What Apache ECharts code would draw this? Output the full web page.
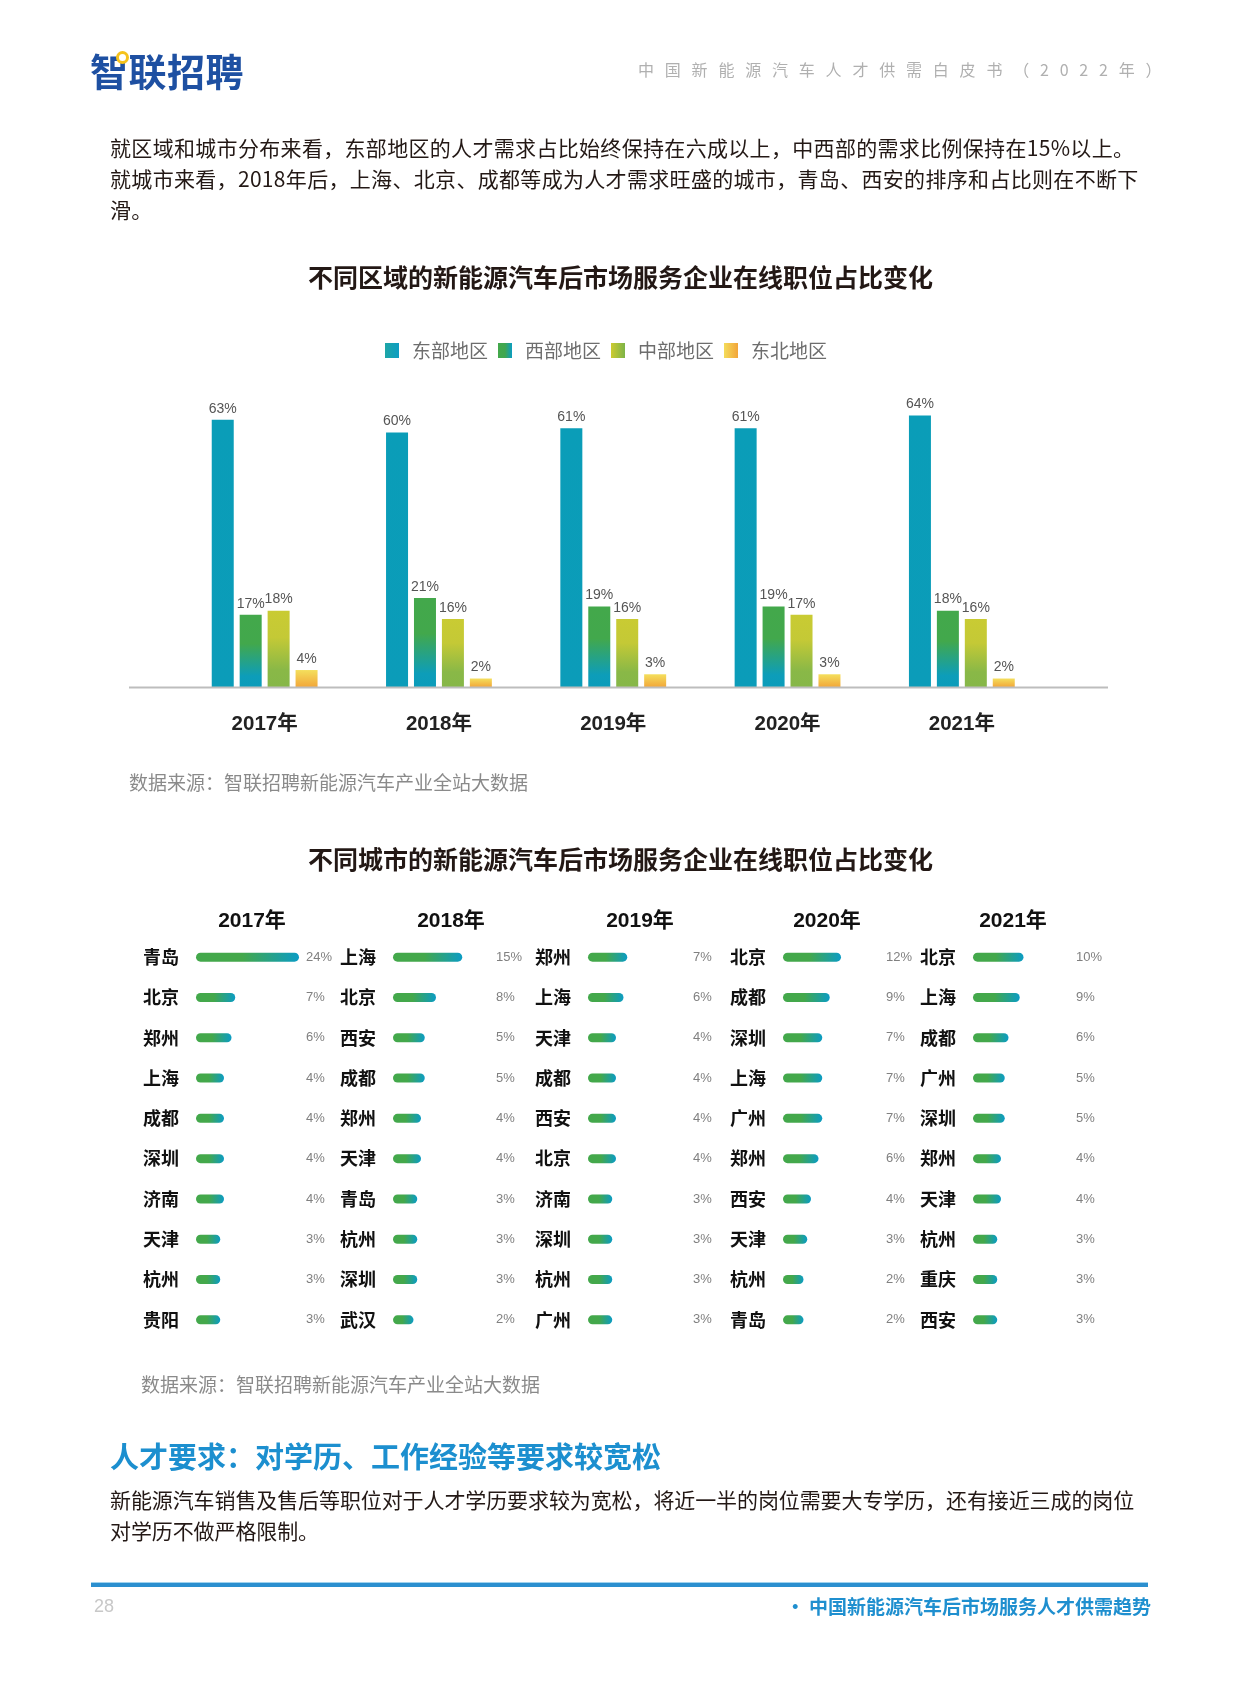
<!DOCTYPE html>
<html>
<head>
<meta charset="utf-8">
<script src="https://cdn.jsdelivr.net/npm/echarts@6/dist/echarts.min.js"></script>
<style>
  html, body { margin:0; padding:0; background:#fff; }
  body { width:1241px; height:1684px; position:relative; overflow:hidden;
         font-family:"Noto Sans CJK SC","Noto Sans",sans-serif; }
  #chart { position:absolute; left:0; top:0; width:1241px; height:1684px; }
  .t { position:absolute; white-space:nowrap; z-index:2; }
  #logo { left:90px; top:46px; font-size:38px; font-weight:bold; color:#1e50a2; line-height:48px; letter-spacing:0.5px; }
  #ring { position:absolute; left:116px; top:51px; width:7px; height:7px; border:3px solid #f5c21b; border-radius:50%; background:#fff; z-index:3; }
  #hdr { left:638px; top:58px; font-size:16px; color:#b0b0b0; letter-spacing:10.8px; line-height:22px; }
  .p { left:110px; font-size:21px; color:#231815; line-height:31px; }
  #p1 { top:132px; letter-spacing:0.32px; }
  #p2 { top:1484px; letter-spacing:-0.1px; }
  #sec { left:110px; top:1436px; font-size:29px; font-weight:bold; color:#1c8fcf; line-height:38px; }
  #line { position:absolute; left:91px; top:1582px; width:1057px; height:4px; background:#2b8fcf; border-top:1px solid #9fd2ee; }
  #pg { left:94px; top:1594px; font-size:18px; color:#c8c8c8; line-height:24px; font-family:"Liberation Sans",sans-serif; }
  #ftr { right:90px; top:1594px; font-size:19px; font-weight:bold; color:#1f8fcf; line-height:24px; }
</style>
</head>
<body>
<div id="chart"></div>
<div class="t" id="logo">智联招聘</div>
<div id="ring"></div>
<div class="t" id="hdr">中国新能源汽车人才供需白皮书（2022年）</div>
<div class="t p" id="p1">就区域和城市分布来看，东部地区的人才需求占比始终保持在六成以上，中西部的需求比例保持在15%以上。<br>就城市来看，2018年后，上海、北京、成都等成为人才需求旺盛的城市，青岛、西安的排序和占比则在不断下<br>滑。</div>
<div class="t" id="sec">人才要求：对学历、工作经验等要求较宽松</div>
<div class="t p" id="p2">新能源汽车销售及售后等职位对于人才学历要求较为宽松，将近一半的岗位需要大专学历，还有接近三成的岗位<br>对学历不做严格限制。</div>
<div id="line"></div>
<div class="t" id="pg">28</div>
<div class="t" id="ftr">· 中国新能源汽车后市场服务人才供需趋势</div>
<script>
// ---- Region chart data ----
const regionYears = ['2017年', '2018年', '2019年', '2020年', '2021年'];
const regionNames = ['东部地区', '西部地区', '中部地区', '东北地区'];
const eastValues = [63, 60, 61, 61, 64];
const westValues = [17, 21, 19, 19, 18];
const centralValues = [18, 16, 16, 17, 16];
const northeastValues = [4, 2, 3, 3, 2];

// ---- City chart data ----
const cityYears = ['2017年', '2018年', '2019年', '2020年', '2021年'];
const cities2017 = ['青岛', '北京', '郑州', '上海', '成都', '深圳', '济南', '天津', '杭州', '贵阳'];
const values2017 = [24, 7, 6, 4, 4, 4, 4, 3, 3, 3];
const cities2018 = ['上海', '北京', '西安', '成都', '郑州', '天津', '青岛', '杭州', '深圳', '武汉'];
const values2018 = [15, 8, 5, 5, 4, 4, 3, 3, 3, 2];
const cities2019 = ['郑州', '上海', '天津', '成都', '西安', '北京', '济南', '深圳', '杭州', '广州'];
const values2019 = [7, 6, 4, 4, 4, 4, 3, 3, 3, 3];
const cities2020 = ['北京', '成都', '深圳', '上海', '广州', '郑州', '西安', '天津', '杭州', '青岛'];
const values2020 = [12, 9, 7, 7, 7, 6, 4, 3, 2, 2];
const cities2021 = ['北京', '上海', '成都', '广州', '深圳', '郑州', '天津', '杭州', '重庆', '西安'];
const values2021 = [10, 9, 6, 5, 5, 4, 4, 3, 3, 3];

const cityLists = [cities2017, cities2018, cities2019, cities2020, cities2021];
const cityValues = [values2017, values2018, values2019, values2020, values2021];

const LG = (x2, y2, stops) => new echarts.graphic.LinearGradient(0, 0, x2, y2,
  stops.map(s => ({ offset: s[0], color: s[1] })));

const barColors = [
  LG(0, 1, [[0, '#0a9db8'], [1, '#0b9cb9']]),
  LG(0, 1, [[0, '#43a84b'], [0.4, '#42a84c'], [0.85, '#0d9db9'], [1, '#0b9cba']]),
  LG(0, 1, [[0, '#c9cb33'], [0.35, '#c4c936'], [0.78, '#89b847'], [1, '#86b748']]),
  LG(0, 1, [[0, '#f4df5c'], [1, '#f2a73a']])
];
const legendColors = [
  LG(1, 0, [[0, '#1ea6a6'], [1, '#0d9dc2']]),
  LG(1, 0, [[0, '#43a84b'], [0.5, '#40a64f'], [1, '#0b9dc2']]),
  LG(1, 0, [[0, '#cccb30'], [1, '#7db448']]),
  LG(1, 0, [[0, '#f4dc5a'], [1, '#f2a53a']])
];
const regionSeriesData = [eastValues, westValues, centralValues, northeastValues];

const cityCols = [
  { barStart: 196, labelX: 306, head: 252 },
  { barStart: 393, labelX: 496, head: 451 },
  { barStart: 588, labelX: 693, head: 640 },
  { barStart: 783, labelX: 886, head: 827 },
  { barStart: 973, labelX: 1076, head: 1013 }
];
const PX_PER_PCT = 3.75, CAP = 13, BAR_H = 9;

const grids = [{ left: 177.5, right: 192, top: 390, bottom: 997 }];
const xAxes = [{
  type: 'category', gridIndex: 0, data: regionYears,
  axisLine: { show: false }, axisTick: { show: false },
  axisLabel: { margin: 27, fontSize: 20.5, fontWeight: 'bold', color: '#222',
               fontFamily: 'Liberation Sans, Noto Sans CJK SC' }
}];
const yAxes = [{ type: 'value', gridIndex: 0, min: 0, max: 70, show: false, splitLine: { show: false } }];
const series = regionNames.map((name, k) => ({
  name, type: 'bar', xAxisIndex: 0, yAxisIndex: 0,
  data: regionSeriesData[k], barWidth: 22, barGap: '27%',
  itemStyle: { color: barColors[k] },
  label: { show: true, position: 'top', distance: 4, formatter: '{c}%', fontSize: 14,
           color: '#555', fontFamily: 'Liberation Sans, sans-serif' }
}));

const titles = [
  { text: '不同区域的新能源汽车后市场服务企业在线职位占比变化', left: 'center', top: 265, padding: 0,
    textStyle: { fontSize: 25, fontWeight: 'bold', color: '#231815', fontFamily: 'Noto Sans CJK SC' } },
  { text: '数据来源：智联招聘新能源汽车产业全站大数据', left: 129, top: 773, padding: 0,
    textStyle: { fontSize: 19, fontWeight: 'normal', color: '#8a8a8a', fontFamily: 'Noto Sans CJK SC' } },
  { text: '不同城市的新能源汽车后市场服务企业在线职位占比变化', left: 'center', top: 847, padding: 0,
    textStyle: { fontSize: 25, fontWeight: 'bold', color: '#231815', fontFamily: 'Noto Sans CJK SC' } },
  { text: '数据来源：智联招聘新能源汽车产业全站大数据', left: 141, top: 1375, padding: 0,
    textStyle: { fontSize: 19, fontWeight: 'normal', color: '#8a8a8a', fontFamily: 'Noto Sans CJK SC' } }
];

cityCols.forEach((c, i) => {
  const gi = i + 1;
  const width = c.labelX - c.barStart;
  grids.push({ left: c.barStart, width: width, top: 937, height: 403 });
  xAxes.push({ type: 'value', gridIndex: gi, min: 0, max: width / PX_PER_PCT, show: false });
  yAxes.push({
    type: 'category', gridIndex: gi, data: cityLists[i], inverse: true, position: 'left',
    axisLine: { show: false }, axisTick: { show: false },
    axisLabel: { margin: 17, fontSize: 18, fontWeight: 'bold', color: '#111', fontFamily: 'Noto Sans CJK SC' }
  });
  titles.push({ text: cityYears[i], left: c.head, textAlign: 'center', top: 911, padding: 0,
    textStyle: { fontSize: 21, fontWeight: 'bold', color: '#111', fontFamily: 'Liberation Sans, Noto Sans CJK SC' } });
});
cityCols.forEach((c, i) => {
  const gi = i + 1;
  yAxes.push({
    type: 'category', gridIndex: gi, data: cityValues[i].map(v => v + '%'), inverse: true, position: 'right',
    axisLine: { show: false }, axisTick: { show: false },
    axisLabel: { margin: 0, fontSize: 13, color: '#808080', align: 'left', fontFamily: 'Liberation Sans, sans-serif' }
  });
  series.push({
    type: 'custom', xAxisIndex: gi, yAxisIndex: gi, silent: true,
    data: cityValues[i].map((v, j) => [v, j]),
    encode: { x: 0, y: 1 },
    renderItem: (params, api) => {
      const s = api.coord([0, api.value(1)]);
      const e = api.coord([api.value(0), api.value(1)]);
      return {
        type: 'rect',
        shape: { x: s[0], y: s[1] - BAR_H / 2, width: e[0] - s[0] + CAP, height: BAR_H, r: BAR_H / 2 },
        style: { fill: LG(1, 0, [[0, '#43a84b'], [0.45, '#44a84b'], [1, '#0b9cc4']]) }
      };
    }
  });
});

const chart = echarts.init(document.getElementById('chart'), null, { renderer: 'canvas' });
chart.setOption({
  animation: false,
  backgroundColor: '#fff',
  title: titles,
  legend: {
    data: regionNames.map((n, k) => ({ name: n, itemStyle: { color: legendColors[k] } })),
    left: 380, top: 336, itemWidth: 14, itemHeight: 15, itemGap: 10, icon: 'rect',
    textStyle: { fontSize: 19, color: '#6d6d6d', padding: [0, 0, 0, 8], fontFamily: 'Noto Sans CJK SC' }
  },
  grid: grids,
  xAxis: xAxes,
  yAxis: yAxes,
  series,
  graphic: [{
    type: 'line', shape: { x1: 129, y1: 687.5, x2: 1108, y2: 687.5 },
    style: { stroke: '#bdbdbd', lineWidth: 2 }, z: 10
  }]
});
</script>
</body>
</html>
